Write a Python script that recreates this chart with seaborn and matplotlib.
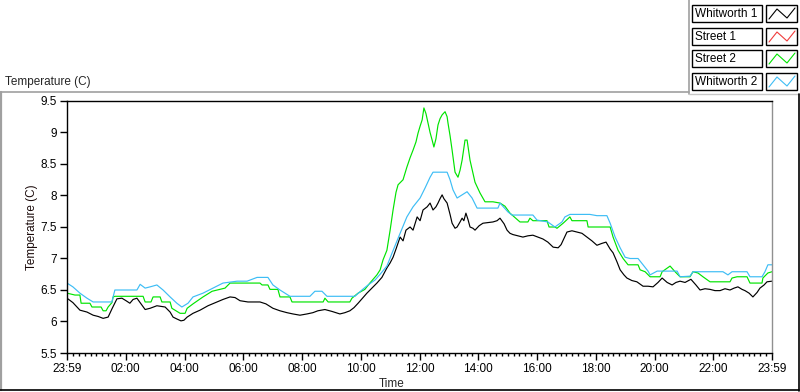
import numpy as np
import pandas as pd
import matplotlib
matplotlib.use("Agg")
import matplotlib.pyplot as plt
from matplotlib.patches import Rectangle
from matplotlib.ticker import FixedLocator, MultipleLocator
import seaborn as sns

# ---------------- data (hours after 23:59, temperature in C) ----------------
series_names = ["Whitworth 1", "Street 1", "Street 2", "Whitworth 2"]
series_colors = ["#000000", "#f03c3c", "#00e400", "#3dbdf5"]

w1_hours = [0.00, 0.20, 0.44, 0.68, 0.89, 1.06, 1.23, 1.40, 1.53, 1.70, 1.87, 2.01, 2.14, 2.25,
            2.38, 2.52, 2.66, 2.83, 3.06, 3.34, 3.51, 3.61, 3.74, 3.88, 3.98, 4.09, 4.29, 4.53,
            4.80, 5.11, 5.31, 5.55, 5.72, 5.89, 6.16, 6.57, 6.77, 7.01, 7.25, 7.49, 7.69, 7.93,
            8.17, 8.37, 8.54, 8.78, 9.02, 9.29, 9.46, 9.63, 9.77, 9.91, 10.04, 10.21, 10.38,
            10.55, 10.72, 10.89, 11.00, 11.10, 11.20, 11.34, 11.44, 11.54, 11.68, 11.78, 11.92,
            12.02, 12.12, 12.26, 12.36, 12.46, 12.56, 12.63, 12.70, 12.77, 12.83, 12.94, 13.04,
            13.11, 13.21, 13.28, 13.38, 13.45, 13.51, 13.58, 13.65, 13.72, 13.82, 13.89, 14.03,
            14.16, 14.33, 14.50, 14.64, 14.74, 14.88, 14.98, 15.08, 15.18, 15.35, 15.52, 15.69,
            15.86, 16.03, 16.20, 16.37, 16.55, 16.72, 16.82, 16.89, 17.02, 17.19, 17.36, 17.53,
            17.70, 17.87, 18.04, 18.21, 18.35, 18.49, 18.59, 18.72, 18.83, 18.96, 19.06, 19.23,
            19.40, 19.61, 19.78, 19.95, 20.12, 20.26, 20.43, 20.60, 20.73, 20.87, 21.04, 21.24,
            21.41, 21.55, 21.72, 21.89, 22.06, 22.23, 22.40, 22.57, 22.71, 22.84, 22.98, 23.08,
            23.22, 23.35, 23.49, 23.59, 23.73, 23.83, 24.00]
w1_temp = [6.37, 6.30, 6.18, 6.15, 6.10, 6.08, 6.05, 6.07, 6.20, 6.36, 6.37, 6.33, 6.29, 6.35,
           6.37, 6.28, 6.19, 6.21, 6.25, 6.23, 6.15, 6.07, 6.04, 6.01, 6.02, 6.07, 6.13, 6.18,
           6.25, 6.31, 6.35, 6.39, 6.38, 6.33, 6.31, 6.31, 6.28, 6.21, 6.17, 6.14, 6.12, 6.10,
           6.12, 6.14, 6.17, 6.19, 6.16, 6.12, 6.14, 6.17, 6.22, 6.29, 6.36, 6.45, 6.53,
           6.61, 6.70, 6.85, 6.93, 7.02, 7.15, 7.34, 7.28, 7.45, 7.50, 7.45, 7.66,
           7.60, 7.77, 7.82, 7.88, 7.77, 7.82, 7.88, 7.95, 8.01, 7.95, 7.88, 7.70,
           7.56, 7.48, 7.50, 7.58, 7.64, 7.60, 7.72, 7.62, 7.50, 7.48, 7.45, 7.52,
           7.56, 7.57, 7.58, 7.60, 7.64, 7.55, 7.45, 7.40, 7.38, 7.36, 7.34, 7.36,
           7.37, 7.34, 7.31, 7.26, 7.18, 7.17, 7.22, 7.29, 7.42, 7.44, 7.42, 7.40,
           7.34, 7.28, 7.21, 7.24, 7.26, 7.15, 7.09, 6.95, 6.82, 6.74, 6.69, 6.65,
           6.63, 6.56, 6.56, 6.55, 6.62, 6.69, 6.62, 6.58, 6.62, 6.64, 6.62, 6.67,
           6.58, 6.50, 6.52, 6.51, 6.49, 6.49, 6.52, 6.50, 6.53, 6.55, 6.51, 6.49,
           6.45, 6.39, 6.46, 6.53, 6.58, 6.63, 6.64]

s1_hours = []   # Street 1: no trace visible in the chart
s1_temp = []

s2_hours = [0.00, 0.27, 0.44, 0.48, 0.78, 0.85, 1.16, 1.23, 1.33, 1.40, 1.53, 1.57, 1.63, 2.59,
            2.66, 2.86, 2.93, 3.17, 3.23, 3.51, 3.57, 3.85, 4.02, 4.09, 4.29, 4.63, 4.94, 5.38,
            5.55, 6.57, 6.64, 6.84, 6.91, 7.18, 7.25, 7.59, 7.66, 8.72, 8.78, 8.89, 9.63, 9.70,
            9.91, 10.14, 10.31, 10.55, 10.66, 10.76, 10.89, 11.00, 11.10, 11.20, 11.27, 11.44,
            11.57, 11.68, 11.78, 11.88, 11.95, 12.02, 12.09, 12.15, 12.22, 12.29, 12.36, 12.43,
            12.49, 12.56, 12.63, 12.70, 12.77, 12.87, 12.94, 12.97, 13.04, 13.11, 13.21, 13.31,
            13.38, 13.45, 13.55, 13.62, 13.72, 13.82, 13.89, 14.06, 14.23, 14.50, 14.74, 14.91,
            15.08, 15.35, 15.42, 15.69, 15.76, 15.86, 16.34, 16.41, 16.61, 16.68, 16.89, 17.12,
            17.19, 17.70, 17.74, 18.49, 18.59, 18.76, 18.93, 19.10, 19.44, 19.51, 19.68, 19.85,
            20.19, 20.26, 20.53, 20.70, 20.87, 21.21, 21.31, 21.48, 21.65, 21.89, 22.57, 22.64,
            22.81, 23.15, 23.25, 23.66, 23.69, 23.86, 24.00]
s2_temp = [6.45, 6.42, 6.42, 6.29, 6.29, 6.23, 6.23, 6.17, 6.17, 6.23, 6.30, 6.39, 6.40, 6.40,
           6.31, 6.31, 6.39, 6.39, 6.31, 6.31, 6.21, 6.13, 6.13, 6.21, 6.28, 6.39, 6.48, 6.53,
           6.61, 6.61, 6.58, 6.58, 6.51, 6.51, 6.39, 6.39, 6.31, 6.31, 6.37, 6.31, 6.31, 6.37,
           6.45, 6.51, 6.61, 6.74, 6.82, 6.98, 7.13, 7.45, 7.77, 8.05, 8.17, 8.25,
           8.45, 8.60, 8.72, 8.85, 8.99, 9.10, 9.20, 9.39, 9.30, 9.15, 9.00, 8.88,
           8.77, 8.90, 9.12, 9.22, 9.28, 9.33, 9.25, 9.15, 8.95, 8.72, 8.37, 8.29,
           8.40, 8.56, 8.88, 8.88, 8.56, 8.35, 8.21, 8.04, 7.90, 7.90, 7.88, 7.83,
           7.72, 7.61, 7.58, 7.58, 7.64, 7.60, 7.60, 7.50, 7.50, 7.48, 7.56, 7.66,
           7.60, 7.60, 7.50, 7.50, 7.34, 7.13, 7.00, 6.90, 6.90, 6.82, 6.79, 6.71,
           6.71, 6.79, 6.88, 6.79, 6.71, 6.71, 6.79, 6.77, 6.71, 6.63, 6.63, 6.69,
           6.71, 6.71, 6.61, 6.61, 6.69, 6.77, 6.79]

w2_hours = [0.00, 0.20, 0.44, 0.68, 0.89, 1.53, 1.57, 1.63, 2.38, 2.49, 2.66, 2.83, 3.06, 3.27,
            3.51, 3.74, 3.91, 4.12, 4.29, 4.63, 4.97, 5.31, 5.79, 6.13, 6.47, 6.84, 7.01, 7.25,
            7.59, 8.27, 8.44, 8.68, 8.85, 9.80, 10.04, 10.25, 10.49, 10.66, 10.89, 11.06, 11.34,
            11.57, 11.78, 12.02, 12.19, 12.36, 12.46, 12.94, 13.04, 13.14, 13.28, 13.45, 13.62,
            13.79, 13.96, 14.67, 14.74, 15.01, 15.15, 15.86, 16.00, 16.37, 16.61, 16.85, 16.95,
            17.12, 17.80, 18.04, 18.38, 18.49, 18.66, 18.83, 19.00, 19.17, 19.44, 19.61, 19.78,
            19.85, 20.09, 20.77, 20.87, 21.21, 21.31, 22.33, 22.50, 22.64, 23.15, 23.25, 23.66,
            23.76, 23.86, 24.00]
w2_temp = [6.61, 6.55, 6.45, 6.37, 6.31, 6.31, 6.39, 6.50, 6.50, 6.59, 6.53, 6.55, 6.58, 6.50,
           6.39, 6.29, 6.23, 6.29, 6.39, 6.45, 6.53, 6.61, 6.64, 6.64, 6.70, 6.70, 6.58, 6.50,
           6.40, 6.40, 6.48, 6.48, 6.40, 6.40, 6.50, 6.58, 6.66, 6.75, 6.88, 7.08, 7.40,
           7.66, 7.82, 7.96, 8.12, 8.29, 8.37, 8.37, 8.25, 8.09, 7.96, 8.01, 8.06,
           7.96, 7.80, 7.80, 7.88, 7.74, 7.69, 7.69, 7.61, 7.58, 7.50, 7.58, 7.66,
           7.70, 7.70, 7.68, 7.68, 7.56, 7.34, 7.17, 7.02, 7.00, 7.00, 6.90, 6.80,
           6.74, 6.80, 6.80, 6.71, 6.72, 6.79, 6.79, 6.74, 6.79, 6.79, 6.71, 6.71,
           6.79, 6.90, 6.90]

x_tick_hours = [0, 2, 4, 6, 8, 10, 12, 14, 16, 18, 20, 22, 24]
x_tick_labels = ["23:59", "02:00", "04:00", "06:00", "08:00", "10:00", "12:00",
                 "14:00", "16:00", "18:00", "20:00", "22:00", "23:59"]
y_ticks = [5.5, 6, 6.5, 7, 7.5, 8, 8.5, 9, 9.5]

# ---------------- build long table ----------------
frames = []
for name, hrs, tmp in [("Whitworth 1", w1_hours, w1_temp), ("Street 1", s1_hours, s1_temp),
                       ("Street 2", s2_hours, s2_temp), ("Whitworth 2", w2_hours, w2_temp)]:
    frames.append(pd.DataFrame({"Time": np.array(hrs, dtype=float),
                                "Temperature": np.array(tmp, dtype=float),
                                "sensor": name}))
df = pd.concat(frames, ignore_index=True)

# ---------------- figure ----------------
sns.set_theme(style="white")
plt.rcParams["font.family"] = ["Liberation Sans", "DejaVu Sans"]

W, H = 800, 392
fig = plt.figure(figsize=(W / 100, H / 100), dpi=100)
fig.patch.set_facecolor("white")

# overlay in pixel coordinates for panel decoration and legend
ov = fig.add_axes([0, 0, 1, 1], zorder=0)
ov.set_xlim(0, W)
ov.set_ylim(H, 0)
ov.axis("off")

gray = "#a0a0a0"
ov.plot([0, 689], [92, 92], color=gray, lw=1.2)
ov.plot([689, 689], [0, 94], color=gray, lw=1.2)
ov.plot([689, 798], [94, 94], color="#c8c8c8", lw=1.0)
ov.plot([0.8, 0.8], [92, 390], color=gray, lw=1.6)
ov.plot([0, 799], [390, 390], color="black", lw=1.2)
ov.plot([798.5, 798.5], [94, 391], color="black", lw=1.2)

# legend (drawn from the series names / colours)
box_tops = [5, 28, 50, 73]
for name, col, top in zip(series_names, series_colors, box_tops):
    ov.add_patch(Rectangle((692, top), 70, 17, facecolor="white", edgecolor="black", lw=1.0))
    ov.add_patch(Rectangle((766, top), 31, 17, facecolor="white", edgecolor="black", lw=1.0))
    ov.text(695, top + 8.8, name, ha="left", va="center", fontsize=8.5, color="black")
    ov.plot([769, 777, 787, 795], [top + 14, top + 4, top + 13, top + 3], color=col, lw=0.8)

# top-left caption and axis labels
fig.text(5 / W, 1 - 82 / H, "Temperature (C)", ha="left", va="center", fontsize=8.5)
fig.text(32 / W, 1 - 227 / H, "Temperature (C)", ha="center", va="center",
         rotation=90, fontsize=8.5, color="#1a0a0a")
fig.text(392 / W, 1 - 384 / H, "Time", ha="center", va="center", fontsize=8.5)

# main plot area
left, right, top_px, bottom_px = 67, 772, 101, 353
ax = fig.add_axes([left / W, 1 - bottom_px / H, (right - left) / W, (bottom_px - top_px) / H],
                  zorder=2)
ax.set_facecolor("white")

plot_order = ["Whitworth 1", "Street 1", "Street 2", "Whitworth 2"]
palette = dict(zip(series_names, series_colors))
for name in plot_order:
    sub = df[df["sensor"] == name]
    if len(sub) == 0:
        continue
    sns.lineplot(data=sub, x="Time", y="Temperature", color=palette[name],
                 estimator=None, sort=False, linewidth=0.85, ax=ax, legend=False)

ax.set_xlim(0, 24)
ax.set_ylim(5.5, 9.5)
ax.set_xlabel("")
ax.set_ylabel("")
ax.xaxis.set_major_locator(FixedLocator(x_tick_hours))
ax.set_xticklabels(x_tick_labels)
ax.xaxis.set_minor_locator(MultipleLocator(0.2))
ax.yaxis.set_major_locator(FixedLocator(y_ticks))
ax.set_yticklabels(["%g" % v for v in y_ticks])

ax.tick_params(axis="both", which="major", direction="out", length=5, width=1.0,
               color="black", labelsize=8.5, labelcolor="black", pad=2,
               bottom=True, left=True)
ax.tick_params(axis="x", which="minor", direction="out", length=2.5, width=1.0,
               color="black", bottom=True)

for side in ["left", "top", "bottom"]:
    ax.spines[side].set_visible(True)
    ax.spines[side].set_color("black")
    ax.spines[side].set_linewidth(1.0)
ax.spines["right"].set_visible(True)
ax.spines["right"].set_color("#909090")
ax.spines["right"].set_linewidth(1.0)

fig.savefig("out.png", dpi=100, facecolor="white")
